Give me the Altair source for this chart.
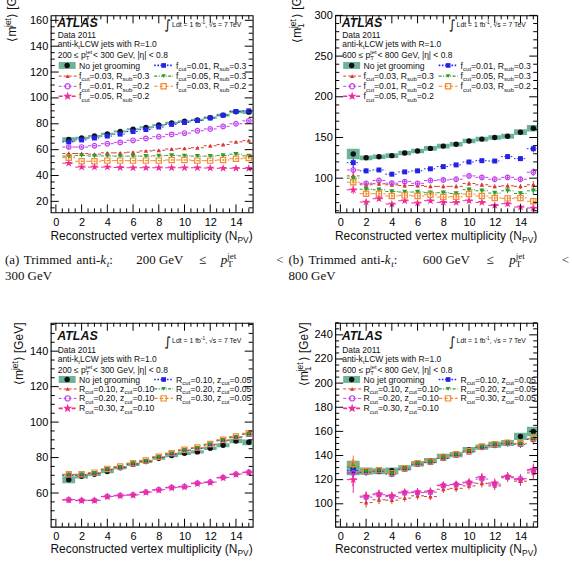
import altair as alt
import pandas as pd

NPV = list(range(1, 16))

# ---------- (a) trimmed anti-kt, 200 <= pT < 300 GeV ----------
A_UNGROOMED = [67.8, 69.0, 70.5, 72.2, 74.0, 75.8, 77.2, 79.0, 80.7, 82.0, 83.0, 84.7, 86.7, 89.3, 89.0]
A_UNGROOMED_ERR = [1.8, 1.0, 0.9, 0.8, 0.8, 0.8, 0.8, 0.8, 0.8, 0.8, 0.8, 0.9, 1.0, 1.2, 1.5]
A_F003_R03 = [57.0, 57.0, 56.5, 57.5, 57.5, 58.0, 59.0, 59.5, 60.5, 61.0, 61.5, 63.0, 64.0, 66.0, 67.0]
A_F001_R02 = [62.0, 62.0, 63.0, 64.6, 65.6, 67.2, 68.7, 70.0, 71.8, 72.8, 74.6, 76.0, 78.0, 80.0, 82.3]
A_F005_R02 = [49.5, 46.5, 46.5, 46.5, 46.2, 46.0, 46.0, 46.0, 46.0, 46.0, 46.0, 45.8, 45.6, 45.6, 45.5]
A_F001_R03 = [66.0, 67.5, 69.0, 70.5, 72.0, 74.0, 75.5, 77.5, 79.5, 81.0, 82.5, 84.5, 86.6, 89.5, 90.0]
A_F005_R03 = [55.0, 55.5, 55.0, 55.2, 55.0, 55.0, 55.0, 55.2, 55.5, 55.2, 55.0, 55.0, 55.5, 56.5, 55.2]
A_F003_R02 = [53.8, 51.0, 51.0, 51.5, 51.5, 51.5, 51.5, 51.5, 52.0, 52.0, 51.5, 51.5, 52.0, 53.0, 53.5]
A_ERR = [1.5, 0.8, 0.6, 0.5, 0.5, 0.5, 0.5, 0.5, 0.5, 0.5, 0.5, 0.6, 0.7, 0.8, 1.0]

# ---------- (b) trimmed anti-kt, 600 <= pT < 800 GeV ----------
B_UNGROOMED = [129.7, 125.0, 126.4, 127.7, 131.0, 133.4, 136.6, 139.4, 141.8, 145.6, 148.0, 150.0, 151.5, 156.5, 161.4]
B_UNGROOMED_ERR = [6.5, 3.0, 2.8, 2.8, 2.8, 2.8, 2.8, 2.8, 2.8, 2.8, 2.8, 2.8, 3.0, 3.5, 4.0]
B_F003_R03 = [102.8, 91.9, 93.1, 91.9, 91.0, 91.0, 89.9, 89.9, 89.9, 93.5, 91.9, 89.9, 90.6, 89.9, 91.9]
B_F001_R02 = [110.1, 93.7, 97.2, 93.9, 95.8, 93.7, 97.2, 97.9, 98.7, 102.8, 101.0, 98.7, 101.0, 98.7, 107.3]
B_F005_R02 = [85.8, 70.7, 74.8, 68.2, 72.3, 69.5, 72.3, 70.3, 70.3, 72.3, 70.3, 66.6, 68.6, 64.5, 63.4]
B_F001_R03 = [119.1, 109.0, 110.1, 104.9, 107.7, 109.0, 111.5, 114.2, 116.3, 119.9, 121.5, 121.1, 126.5, 124.0, 136.2]
B_F005_R03 = [100.0, 86.4, 85.8, 83.7, 83.0, 83.0, 82.1, 82.1, 81.2, 85.8, 84.5, 81.7, 84.5, 81.2, 84.5]
B_F003_R02 = [95.1, 80.9, 80.9, 78.1, 78.9, 78.1, 79.6, 76.8, 77.2, 80.5, 78.1, 75.7, 75.2, 75.7, 71.6]
B_ERR = [5.0, 3.0, 2.5, 2.5, 2.5, 2.5, 2.5, 2.5, 2.5, 2.5, 2.5, 2.5, 3.0, 3.0, 4.5]

# ---------- (c) pruned, 200 <= pT < 300 GeV ----------
C_UNGROOMED = [67.5, 69.4, 70.6, 72.1, 74.3, 76.2, 77.8, 79.6, 81.1, 82.4, 83.2, 85.2, 86.9, 89.3, 88.6]
C_UNGROOMED_ERR = [2.0, 1.2, 1.0, 0.9, 0.9, 0.9, 0.9, 0.9, 0.9, 0.9, 0.9, 1.0, 1.1, 1.3, 1.6]
C_R010_Z010 = [70.4, 70.5, 71.3, 73.4, 74.7, 76.6, 78.1, 80.3, 82.3, 84.2, 85.5, 87.4, 89.8, 91.7, 93.5]
C_R020_Z010 = [56.3, 55.9, 55.9, 58.1, 58.7, 59.0, 60.6, 61.9, 63.2, 63.7, 65.6, 66.2, 68.8, 70.7, 71.8]
C_R030_Z010 = [56.0, 55.7, 55.8, 57.9, 58.4, 58.8, 60.3, 61.6, 62.9, 63.4, 65.3, 65.9, 68.5, 70.4, 71.5]
C_R010_Z005 = [70.0, 70.1, 71.0, 73.1, 74.4, 76.3, 77.8, 80.0, 81.9, 83.8, 85.1, 87.0, 89.4, 91.3, 93.1]
C_R020_Z005 = [70.2, 70.3, 71.2, 73.3, 74.6, 76.5, 78.0, 80.2, 82.1, 84.0, 85.3, 87.2, 89.6, 91.5, 93.3]
C_R030_Z005 = [70.6, 70.6, 71.5, 73.6, 74.9, 76.8, 78.3, 80.5, 82.5, 84.4, 85.7, 87.6, 90.0, 91.9, 93.7]
C_ERR = [1.5, 0.9, 0.8, 0.7, 0.7, 0.7, 0.7, 0.7, 0.7, 0.7, 0.8, 0.8, 0.9, 1.0, 1.3]

# ---------- (d) pruned, 600 <= pT < 800 GeV ----------
D_UNGROOMED = [129.7, 127.0, 127.0, 127.5, 129.7, 133.2, 135.7, 139.3, 140.7, 144.8, 147.0, 148.9, 150.3, 155.8, 159.9]
D_UNGROOMED_ERR = [6.0, 3.0, 2.5, 2.5, 2.2, 2.2, 2.2, 2.2, 2.2, 2.2, 2.2, 2.5, 2.5, 3.0, 4.0]
D_R010_Z010 = [125.5, 101.0, 103.3, 103.0, 104.7, 106.6, 106.0, 112.0, 112.8, 114.8, 117.0, 114.8, 121.6, 118.8, 125.6]
D_R020_Z010 = [125.5, 105.5, 107.5, 106.0, 109.0, 109.3, 109.6, 115.0, 116.0, 117.3, 120.5, 116.3, 122.3, 120.8, 127.3]
D_R030_Z010 = [120.0, 106.3, 108.2, 106.9, 109.6, 109.9, 110.4, 115.4, 115.9, 117.9, 122.0, 117.3, 122.8, 120.0, 128.3]
D_R010_Z005 = [127.5, 126.2, 127.0, 124.6, 128.7, 132.8, 134.2, 137.5, 140.3, 143.0, 146.6, 148.5, 149.9, 149.3, 153.3]
D_R020_Z005 = [130.5, 126.6, 127.5, 125.0, 129.1, 133.2, 134.6, 137.9, 140.7, 143.4, 147.0, 148.9, 150.3, 149.7, 153.8]
D_R030_Z005 = [133.0, 127.0, 127.9, 125.4, 129.5, 133.6, 135.0, 138.3, 141.1, 143.8, 147.4, 149.3, 150.7, 150.1, 154.3]
D_ERR_Z005 = [7.0, 3.0, 2.5, 2.5, 2.2, 2.2, 2.2, 2.2, 2.2, 2.2, 2.2, 2.5, 2.5, 3.0, 4.0]
D_ERR_Z010 = [11.0, 4.0, 3.5, 3.0, 3.0, 3.0, 3.0, 3.0, 3.0, 3.0, 3.5, 3.5, 3.5, 4.0, 5.0]

# ---------- styling ----------
SANS = "Liberation Sans"
SERIF = "Liberation Serif"
INK = "#111111"
GREEN = "#6db39a"
KEYS = ["s1", "s2", "s3", "s4", "s5", "s6"]
COLORS = ["#d93a2f", "#c040f0", "#ef2a9a", "#2323e6", "#2e9b30", "#f28a2e"]
STAR = ("M0,-1L0.2245,-0.309L0.951,-0.309L0.363,0.118L0.588,0.809L0,0.382"
        "L-0.588,0.809L-0.363,0.118L-0.951,-0.309L-0.2245,-0.309Z")
SHAPES = ["triangle-up", "circle", STAR, "square", "triangle-down", "square"]
FILLED = [True, False, False, True, True, False]
SIZES = [20, 28, 32, 22, 20, 28]
DASHES = [[3, 2], [3, 2], [4, 2.5], [1.6, 1.6], [3, 1.5, 1, 1.5], [3.5, 2]]
WIDTHS = [1.0, 1.0, 1.6, 1.7, 1.3, 1.1]

XDOM = [-0.4, 15.3]
XMAJ = list(range(0, 15, 2))
XMIN = [i * 0.5 for i in range(0, 31) if i % 4 != 0]
PW = 203

ONE = alt.Data(values=[{"o": 1}])

# advance widths (1/1000 em) of the metric-compatible fonts
AR = dict(zip("ABCDEFGHIJKLMNOPQRSTUVWXYZ",
              [667, 667, 722, 722, 667, 611, 778, 722, 278, 500, 667, 556, 833, 722, 778, 667, 778, 722,
               667, 611, 722, 667, 944, 667, 667, 611]))
AR.update(zip("abcdefghijklmnopqrstuvwxyz",
              [556, 556, 500, 556, 556, 278, 556, 556, 222, 222, 500, 222, 833, 556, 556, 556, 556, 333,
               500, 278, 556, 500, 722, 500, 500, 500]))
AR.update({c: 556 for c in "0123456789"})
AR.update({" ": 278, "(": 333, ")": 333, ",": 278, "-": 333, ".": 278, ":": 278, "<": 584, "=": 584,
           "[": 278, "]": 278, "|": 260, "≤": 549, "η": 556, "⟨": 390, "⟩": 390, "√": 549})
TM = dict(zip("ABCDEFGHIJKLMNOPQRSTUVWXYZ",
              [722, 667, 667, 722, 611, 556, 722, 722, 333, 389, 722, 611, 889, 722, 722, 556, 722, 667,
               556, 611, 722, 722, 944, 722, 722, 611]))
TM.update(zip("abcdefghijklmnopqrstuvwxyz",
              [444, 500, 444, 500, 444, 333, 500, 500, 278, 278, 500, 278, 778, 500, 500, 500, 500, 333,
               389, 278, 500, 500, 722, 500, 500, 444]))
TM.update({c: 500 for c in "0123456789"})
TM.update({" ": 250, "(": 333, ")": 333, ":": 278, "-": 333, "≤": 549, "<": 564})


def rich(parts, x, y, fs, serif=False, anchor="start", angle=0, color=INK, weight="normal", style="normal"):
    """Text with sub/superscripts, built from pieces placed along the baseline."""
    table, default, font = (TM, 500, SERIF) if serif else (AR, 556, SANS)
    small = 0.7 * fs

    def tw(s, size):
        return sum(table.get(c, default) for c in s) * size / 1000.0

    def adv(p):
        if p[0] in ("n", "it"):
            return tw(p[1], fs)
        if p[0] in ("sub", "sup", "itsub"):
            return tw(p[1], small)
        return max(tw(p[1], small), tw(p[2], small)) + 0.1 * fs

    total = sum(adv(p) for p in parts)
    dx, dy = (1, 0) if angle == 0 else (0, -1)
    ux, uy = (0, -1) if angle == 0 else (-1, 0)
    sx, sy = (x - dx * total, y - dy * total) if anchor == "end" else (x, y)
    out = []
    pos = [0.0]

    def put(txt, size, lift, st):
        px = sx + dx * pos[0] + ux * lift
        py = sy + dy * pos[0] + uy * lift
        out.append(
            alt.Chart(ONE)
            .mark_text(text=txt, font=font, fontSize=size, fontStyle=st, fontWeight=weight,
                       color=color, align="left", baseline="alphabetic", angle=angle)
            .encode(x=alt.value(round(px, 2)), y=alt.value(round(py, 2)))
        )

    for p in parts:
        k = p[0]
        if k == "n":
            put(p[1], fs, 0, style)
        elif k == "it":
            put(p[1], fs, 0, "italic")
        elif k == "sub":
            put(p[1], small, -0.25 * fs, "normal")
        elif k == "itsub":
            put(p[1], small, -0.25 * fs, "italic")
        elif k == "sup":
            put(p[1], small, 0.42 * fs, "normal")
        else:
            put(p[1], small, -0.25 * fs, "normal")
            put(p[2], small, 0.42 * fs, "normal")
        pos[0] += adv(p)
    return out


def pair(s1, b1, v1, s2, b2, v2):
    return [("n", s1), ("sub", b1), ("n", f"={v1}, {s2}"), ("sub", b2), ("n", f"={v2}")]


TRIM = [pair("f", "cut", "0.03", "R", "sub", "0.3"), pair("f", "cut", "0.01", "R", "sub", "0.2"),
        pair("f", "cut", "0.05", "R", "sub", "0.2"), pair("f", "cut", "0.01", "R", "sub", "0.3"),
        pair("f", "cut", "0.05", "R", "sub", "0.3"), pair("f", "cut", "0.03", "R", "sub", "0.2")]
PRUNE = [pair("R", "cut", "0.10", "z", "cut", "0.10"), pair("R", "cut", "0.20", "z", "cut", "0.10"),
         pair("R", "cut", "0.30", "z", "cut", "0.10"), pair("R", "cut", "0.10", "z", "cut", "0.05"),
         pair("R", "cut", "0.20", "z", "cut", "0.05"), pair("R", "cut", "0.30", "z", "cut", "0.05")]

# text rows inside the frame (baseline offsets from the frame top)
ROW_LAYOUT = {
    0: dict(atlas=12.0, data=22.5, anti=32.0, pt=42.5, lumi=11.5, legend=[50.3, 61.0, 71.3, 81.3],
            ytitle_x=-34.5, ytitle_end=-36.0, xtitle=28.0),
    1: dict(atlas=17.5, data=30.0, anti=39.0, pt=50.0, lumi=20.5, legend=[57.0, 66.5, 76.0, 86.0],
            ytitle_x=-27.5, ytitle_end=0.0, xtitle=26.0),
}

PANELS = {
    "a": dict(row=0, height=198, ydom=[11.5, 163.8], ymaj=list(range(20, 161, 20)), ystep=5,
              none=A_UNGROOMED, none_err=A_UNGROOMED_ERR,
              series=[A_F003_R03, A_F001_R02, A_F005_R02, A_F001_R03, A_F005_R03, A_F003_R02],
              errs=[A_ERR] * 6, labels=TRIM, lo="200", hi="300", m1=False, tag="(a)"),
    "b": dict(row=0, height=198, ydom=[58, 300], ymaj=[100, 150, 200, 250, 300], ystep=10,
              none=B_UNGROOMED, none_err=B_UNGROOMED_ERR,
              series=[B_F003_R03, B_F001_R02, B_F005_R02, B_F001_R03, B_F005_R03, B_F003_R02],
              errs=[B_ERR] * 6, labels=TRIM, lo="600", hi="800", m1=True, tag="(b)"),
    "c": dict(row=1, height=205, ydom=[41, 156], ymaj=list(range(60, 141, 20)), ystep=5,
              none=C_UNGROOMED, none_err=C_UNGROOMED_ERR,
              series=[C_R010_Z010, C_R020_Z010, C_R030_Z010, C_R010_Z005, C_R020_Z005, C_R030_Z005],
              errs=[C_ERR] * 6, labels=PRUNE, lo="200", hi="300", m1=False, tag=None),
    "d": dict(row=1, height=205, ydom=[81, 250], ymaj=list(range(100, 241, 20)), ystep=5,
              none=D_UNGROOMED, none_err=D_UNGROOMED_ERR,
              series=[D_R010_Z010, D_R020_Z010, D_R030_Z010, D_R010_Z005, D_R020_Z005, D_R030_Z005],
              errs=[D_ERR_Z010] * 3 + [D_ERR_Z005] * 3, labels=PRUNE, lo="600", hi="800", m1=True, tag=None),
}

CAPTION_X = {"(a)": dict(tag=-46, word=-27, anti=26, gev=86, le=149, p=171, lt=234),
             "(b)": dict(tag=-47, word=-27, anti=26, gev=88, le=152, p=175, lt=235)}


def panel(key):
    P = PANELS[key]
    L = ROW_LAYOUT[P["row"]]
    H = P["height"]
    xs = alt.Scale(domain=XDOM, nice=False, zero=False)
    ys = alt.Scale(domain=P["ydom"], nice=False, zero=False)
    xax = alt.Axis(values=XMAJ, ticks=False, tickSize=0, domain=False, grid=False, title=None,
                   labelFont=SANS, labelFontSize=11, labelColor="black", labelPadding=4)
    yax = alt.Axis(values=P["ymaj"], ticks=False, tickSize=0, domain=False, grid=False, title=None,
                   labelFont=SANS, labelFontSize=11, labelColor="black", labelPadding=3)

    def X(f):
        return alt.X(f, scale=xs, axis=xax)

    def Y(f):
        return alt.Y(f, scale=ys, axis=yax)

    rows = [dict(series="none", n=n, v=v, e=e) for n, v, e in zip(NPV, P["none"], P["none_err"])]
    for k, vals, errs in zip(KEYS, P["series"], P["errs"]):
        rows += [dict(series=k, n=n, v=v, e=e) for n, v, e in zip(NPV, vals, errs)]
    df = pd.DataFrame(rows)

    base = alt.Chart(df).transform_calculate(
        lo="datum.n - 0.5", hi="datum.n + 0.5", y0="datum.v - datum.e", y1="datum.v + datum.e")
    ungroomed = base.transform_filter("datum.series == 'none'")
    groomed = base.transform_filter("datum.series != 'none'")
    color = alt.Color("series:N", scale=alt.Scale(domain=KEYS, range=COLORS), legend=None)
    shape = alt.Shape("series:N", scale=alt.Scale(domain=KEYS, range=SHAPES), legend=None)
    size = alt.Size("series:O", scale=alt.Scale(domain=KEYS, range=SIZES), legend=None)
    dash = alt.StrokeDash("series:N", scale=alt.Scale(domain=KEYS, range=DASHES), legend=None)
    width = alt.StrokeWidth("series:O", scale=alt.Scale(domain=KEYS, range=WIDTHS), legend=None)
    filled_keys = [k for k, f in zip(KEYS, FILLED) if f]
    open_keys = [k for k, f in zip(KEYS, FILLED) if not f]

    layers = [
        ungroomed.mark_rect(color=GREEN, clip=True).encode(
            x=X("lo:Q"), x2="hi:Q", y=Y("y0:Q"), y2="y1:Q"),
        ungroomed.mark_point(filled=True, shape="circle", size=30, color=INK, opacity=1).encode(
            x=X("n:Q"), y=Y("v:Q")),
        groomed.mark_rule(clip=True).encode(
            x=X("lo:Q"), x2="hi:Q", y=Y("v:Q"), color=color, strokeDash=dash, strokeWidth=width),
        groomed.mark_rule(clip=True, strokeWidth=1).encode(
            x=X("n:Q"), y=Y("y0:Q"), y2="y1:Q", color=color),
        groomed.transform_filter(alt.FieldOneOfPredicate(field="series", oneOf=filled_keys))
        .mark_point(filled=True, opacity=1).encode(x=X("n:Q"), y=Y("v:Q"), color=color, shape=shape, size=size),
        groomed.transform_filter(alt.FieldOneOfPredicate(field="series", oneOf=open_keys))
        .mark_point(filled=False, opacity=1, strokeWidth=1.2).encode(
            x=X("n:Q"), y=Y("v:Q"), color=color, shape=shape, size=size),
    ]

    # inward ticks on all four sides of the frame
    ylo, yhi = P["ydom"]
    step = P["ystep"]
    ymin = [v for v in range(int(ylo) - int(ylo) % step + step, int(yhi) + 1, step) if v not in P["ymaj"]]
    for vals, ln in ((XMAJ, 8), (XMIN, 4)):
        t = alt.Chart(pd.DataFrame({"t": vals})).mark_rule(color="black", strokeWidth=1)
        layers.append(t.encode(x=X("t:Q"), y=alt.value(H), y2=alt.value(H - ln)))
        layers.append(t.encode(x=X("t:Q"), y=alt.value(0), y2=alt.value(ln)))
    for vals, ln in ((P["ymaj"], 8), (ymin, 4)):
        t = alt.Chart(pd.DataFrame({"t": vals})).mark_rule(color="black", strokeWidth=1)
        layers.append(t.encode(y=Y("t:Q"), x=alt.value(0), x2=alt.value(ln)))
        layers.append(t.encode(y=Y("t:Q"), x=alt.value(PW), x2=alt.value(PW - ln)))

    # header block
    layers += rich([("n", "ATLAS")], 6.5, L["atlas"], 12.5, weight="bold", style="italic")
    layers += rich([("n", "Data 2011")], 7, L["data"], 8.5)
    layers += rich([("n", "anti-k"), ("sub", "t"), ("n", " LCW jets with R=1.0")], 7, L["anti"], 8.5)
    layers += rich([("n", f"{P['lo']} ≤ p"), ("ss", "T", "jet"),
                    ("n", f" < {P['hi']} GeV, |η| < 0.8")], 7, L["pt"], 8.5)
    layers.append(alt.Chart(ONE).mark_text(text="∫", font="DejaVu Sans", fontSize=13, color=INK,
                                           align="left", baseline="alphabetic")
                  .encode(x=alt.value(114), y=alt.value(L["lumi"] + 2.5)))
    layers += rich([("n", "Ldt = 1 fb"), ("sup", "-1"), ("n", ", √s = 7 TeV")], 122, L["lumi"], 6.9)

    # legend
    ly = L["legend"]
    layers.append(alt.Chart(ONE).mark_rect(color=GREEN).encode(
        x=alt.value(8), x2=alt.value(25), y=alt.value(ly[0] - 3.5), y2=alt.value(ly[0] + 3.5)))
    layers.append(alt.Chart(ONE).mark_point(filled=True, shape="circle", size=30, color=INK, opacity=1)
                  .encode(x=alt.value(16.5), y=alt.value(ly[0])))
    layers += rich([("n", "No jet grooming")], 28.5, ly[0] + 3.1, 8.7)
    slots = [(0, 1), (0, 2), (0, 3), (1, 0), (1, 1), (1, 2)]
    for i, (col, r) in enumerate(slots):
        x0, x1, tx = (8, 26, 28.5) if col == 0 else (104, 123, 126)
        y = ly[r]
        layers.append(alt.Chart(ONE).mark_rule(color=COLORS[i], strokeDash=DASHES[i], strokeWidth=WIDTHS[i])
                      .encode(x=alt.value(x0), x2=alt.value(x1), y=alt.value(y)))
        layers.append(alt.Chart(ONE).mark_point(shape=SHAPES[i], size=SIZES[i], filled=FILLED[i],
                                                color=COLORS[i], opacity=1, strokeWidth=1.2)
                      .encode(x=alt.value((x0 + x1) / 2), y=alt.value(y)))
        layers += rich(P["labels"][i], tx, y + 3.1, 8.7)

    # axis titles
    inner = [("ss", "1", "jet")] if P["m1"] else [("sup", "jet")]
    layers += rich([("n", "⟨m")] + inner + [("n", "⟩ [GeV]")], L["ytitle_x"], L["ytitle_end"], 12,
                   anchor="end", angle=270)
    layers += rich([("n", "Reconstructed vertex multiplicity (N"), ("sub", "PV"), ("n", ")")],
                   PW, H + L["xtitle"], 12, anchor="end")

    # sub-figure caption below the top row
    if P["tag"]:
        c = CAPTION_X[P["tag"]]
        b1, b2 = 250, 266
        fs = 13
        layers += rich([("n", P["tag"])], c["tag"], b1, fs, serif=True)
        layers += rich([("n", "Trimmed")], c["word"], b1, fs, serif=True)
        layers += rich([("n", "anti-"), ("it", "k"), ("itsub", "t"), ("n", ":")], c["anti"], b1, fs, serif=True)
        layers += rich([("n", f"{P['lo']} GeV")], c["gev"], b1, fs, serif=True)
        layers += rich([("n", "≤")], c["le"], b1, fs, serif=True)
        layers += rich([("it", "p"), ("ss", "T", "jet")], c["p"], b1, fs, serif=True)
        layers += rich([("n", "<")], c["lt"], b1, fs, serif=True, anchor="end")
        layers += rich([("n", f"{P['hi']} GeV")], c["tag"], b2, fs, serif=True)

    return alt.layer(*layers).properties(width=PW, height=H)


chart = (
    alt.concat(panel("a"), panel("b"), panel("c"), panel("d"), columns=2,
               spacing={"row": 111, "column": 83}, bounds="flush")
    .resolve_scale(x="independent", y="independent")
    .properties(padding={"left": 3, "top": -23, "right": 2, "bottom": 5}, background="white")
    .configure_view(stroke="black", strokeWidth=1.1)
)

chart.save("out.html", embed_options={"renderer": "svg", "actions": False})
